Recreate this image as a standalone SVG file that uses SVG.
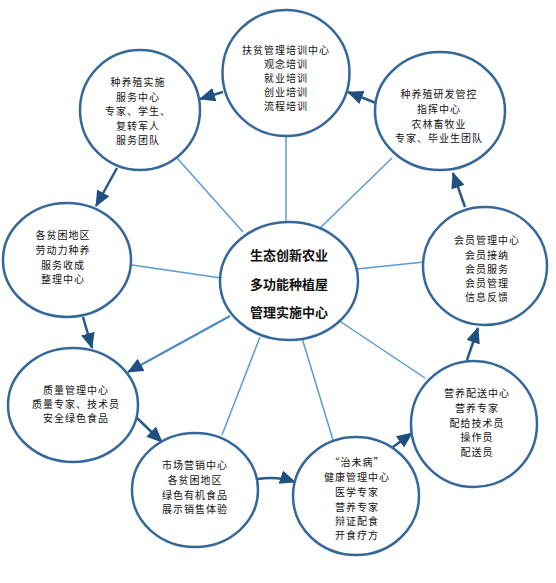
<svg xmlns="http://www.w3.org/2000/svg" width="556" height="583" viewBox="0 0 556 583">
<style>
.node{fill:#ffffff;stroke:#35689A;stroke-width:2.5}
.t{font-family:"Noto Sans CJK SC","Noto Sans",sans-serif;font-size:10px;letter-spacing:1px;fill:#111;text-anchor:middle}
.tc{font-family:"Noto Sans CJK SC","Noto Sans",sans-serif;font-size:13px;font-weight:bold;fill:#111;text-anchor:middle}
.spoke{stroke:#5B9BD5;stroke-width:1.5;fill:none}
.arr{stroke:#2A5A88;stroke-width:2.5;fill:none;marker-end:url(#ah)}
</style>
<defs>
<marker id="ah" viewBox="0 0 16 14" refX="15" refY="7" markerWidth="16" markerHeight="14" markerUnits="userSpaceOnUse" orient="auto">
<path d="M0,0 L16,7 L0,14 z" fill="#1F5080"/>
</marker>
</defs>
<rect width="556" height="583" fill="#ffffff"/>
<g id="connectors">
<line class="spoke" x1="286" y1="136" x2="286" y2="223"/>
<line class="spoke" x1="177" y1="158" x2="243" y2="232"/>
<line class="spoke" x1="392" y1="158" x2="318" y2="230"/>
<line class="spoke" x1="132" y1="265" x2="221" y2="278"/>
<line class="spoke" x1="357" y1="269" x2="424" y2="262"/>
<line class="spoke" x1="260" y1="337" x2="222" y2="435"/>
<line class="spoke" x1="302" y1="338" x2="333" y2="440"/>
<line class="spoke" x1="335" y1="318" x2="425" y2="378"/>
<line x1="230" y1="316" x2="128" y2="372" stroke="#4A88C7" stroke-width="2" marker-end="url(#ah)"/>
<line class="arr" x1="376" y1="103" x2="348" y2="92"/>
<line class="arr" x1="223" y1="92" x2="200" y2="99"/>
<line class="arr" x1="117" y1="168" x2="96" y2="206"/>
<line class="arr" x1="83" y1="317" x2="92" y2="348"/>
<line class="arr" x1="137" y1="418" x2="162" y2="442"/>
<path class="arr" d="M258,479 C272,477 283,478 295,482"/>
<line class="arr" x1="393" y1="447" x2="412" y2="433"/>
<line class="arr" x1="467" y1="360" x2="478" y2="328"/>
<line class="arr" x1="465" y1="207" x2="453" y2="173"/>
</g>
<g id="n-center">
<ellipse class="node" cx="289" cy="281" rx="69" ry="59"/>
<text class="tc" x="289" y="260">生态创新农业</text>
<text class="tc" x="289" y="288.5">多功能种植屋</text>
<text class="tc" x="289" y="317">管理实施中心</text>
</g>
<g id="n-fupin">
<ellipse class="node" cx="286" cy="73" rx="63.5" ry="63"/>
<text class="t" x="286" y="54">扶贫管理培训中心</text>
<text class="t" x="286" y="68">观念培训</text>
<text class="t" x="286" y="82">就业培训</text>
<text class="t" x="286" y="96">创业培训</text>
<text class="t" x="286" y="110">流程培训</text>
</g>
<g id="n-shishi">
<ellipse class="node" cx="140" cy="110" rx="60" ry="60"/>
<text class="t" x="138" y="86">种养殖实施</text>
<text class="t" x="138" y="100.5">服务中心</text>
<text class="t" x="138" y="115">专家、学生、</text>
<text class="t" x="138" y="129.5">复转军人</text>
<text class="t" x="138" y="144">服务团队</text>
</g>
<g id="n-yanfa">
<ellipse class="node" cx="440" cy="111" rx="65" ry="59"/>
<text class="t" x="439" y="98">种养殖研发管控</text>
<text class="t" x="439" y="113">指挥中心</text>
<text class="t" x="439" y="127.5">农林畜牧业</text>
<text class="t" x="439" y="142">专家、毕业生团队</text>
</g>
<g id="n-pinkun">
<ellipse class="node" cx="67" cy="260" rx="64" ry="57"/>
<text class="t" x="63" y="239">各贫困地区</text>
<text class="t" x="63" y="254">劳动力种养</text>
<text class="t" x="63" y="269">服务收成</text>
<text class="t" x="63" y="283">整理中心</text>
</g>
<g id="n-huiyuan">
<ellipse class="node" cx="485" cy="266" rx="62" ry="59"/>
<text class="t" x="487" y="244">会员管理中心</text>
<text class="t" x="487" y="258.5">会员接纳</text>
<text class="t" x="487" y="272.5">会员服务</text>
<text class="t" x="487" y="286.5">会员管理</text>
<text class="t" x="487" y="301">信息反馈</text>
</g>
<g id="n-zhiliang">
<ellipse class="node" cx="73" cy="405" rx="65" ry="57"/>
<text class="t" x="76" y="394">质量管理中心</text>
<text class="t" x="76" y="408">质量专家、技术员</text>
<text class="t" x="76" y="422">安全绿色食品</text>
</g>
<g id="n-shichang">
<ellipse class="node" cx="195" cy="490" rx="63" ry="57"/>
<text class="t" x="195" y="469">市场营销中心</text>
<text class="t" x="195" y="484">各贫困地区</text>
<text class="t" x="195" y="499">绿色有机食品</text>
<text class="t" x="195" y="513">展示销售体验</text>
</g>
<g id="n-zhiweibing">
<ellipse class="node" cx="356" cy="496" rx="63" ry="59"/>
<text class="t" x="357" y="466">“治未病”</text>
<text class="t" x="357" y="481">健康管理中心</text>
<text class="t" x="357" y="496">医学专家</text>
<text class="t" x="357" y="510.5">营养专家</text>
<text class="t" x="357" y="524.5">辩证配食</text>
<text class="t" x="357" y="539">开食疗方</text>
</g>
<g id="n-peisong">
<ellipse class="node" cx="474" cy="424" rx="63" ry="63"/>
<text class="t" x="477" y="397">营养配送中心</text>
<text class="t" x="477" y="412">营养专家</text>
<text class="t" x="477" y="427">配给技术员</text>
<text class="t" x="477" y="441">操作员</text>
<text class="t" x="477" y="456">配送员</text>
</g>
</svg>
